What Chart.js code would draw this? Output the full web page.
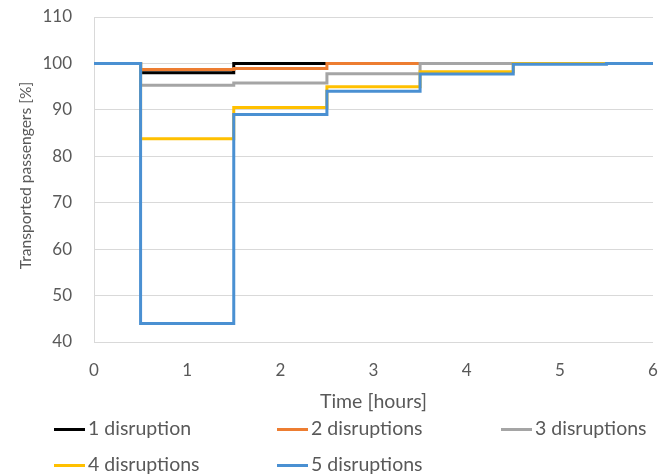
<!DOCTYPE html>
<html>
<head>
<meta charset="utf-8">
<script src="https://cdn.jsdelivr.net/npm/chart.js@4/dist/chart.umd.min.js"></script>
<style>
  body { margin: 0; background: #fff; }
  #wrap { position: relative; width: 670px; height: 475px; font-family: Lato, sans-serif; color: #595959; }
  #legend { position: absolute; left: 0; top: 0; width: 670px; height: 475px; pointer-events: none; }
  .item { position: absolute; font-size: 19.5px; line-height: 24px; white-space: nowrap; }
  .item span.swatch { display: inline-block; width: 31px; height: 3px; vertical-align: middle; margin-right: 3px; position: relative; top: -1px; }
</style>
</head>
<body>
<div id="wrap">
  <canvas id="chart" width="670" height="475"></canvas>
  <div id="legend"></div>
</div>
<script>
// step start times (hours) and level from that time on
const stepTimes = [0, 0.5, 1.5, 2.5, 3.5, 4.5, 5.5, 6];
const seriesLabels = ['1 disruption', '2 disruptions', '3 disruptions', '4 disruptions', '5 disruptions'];
const seriesColors = ['#000000', '#ED7D31', '#A5A5A5', '#FFC000', '#4A90D2'];
const oneDisruption    = [100, 98.0, 100,  100,  100,  100,  100, 100];
const twoDisruptions   = [100, 98.7, 98.9, 100,  100,  100,  100, 100];
const threeDisruptions = [100, 95.3, 95.8, 97.8, 100,  100,  100, 100];
const fourDisruptions  = [100, 83.8, 90.5, 95.0, 98.2, 100,  100, 100];
const fiveDisruptions  = [100, 44.0, 89.0, 94.0, 97.7, 99.8, 100, 100];
const yTicks = [40, 50, 60, 70, 80, 90, 100, 110];
const xTicks = [0, 1, 2, 3, 4, 5, 6];

const allSeries = [oneDisruption, twoDisruptions, threeDisruptions, fourDisruptions, fiveDisruptions];

const datasets = allSeries.map((vals, i) => ({
    label: seriesLabels[i],
    data: vals.map((v, j) => ({ x: stepTimes[j], y: v })),
    borderColor: seriesColors[i],
    backgroundColor: seriesColors[i],
    borderWidth: 3,
    pointRadius: 0,
    stepped: true,
    fill: false,
    order: allSeries.length - i   // later series drawn on top
}));

const tickFont = { family: 'Lato', size: 17 };

// the plot box is fixed by layout padding, so drop the label overflow padding
function noScalePadding(scale) {
    scale.paddingTop = 0;
    scale.paddingBottom = 0;
    scale.paddingLeft = 0;
    scale.paddingRight = 0;
}

const ctx = document.getElementById('chart').getContext('2d');
const chart = new Chart(ctx, {
    type: 'line',
    data: { datasets: datasets },
    options: {
        responsive: false,
        animation: false,
        layout: { padding: { top: 17, right: 17, left: 0, bottom: 0 } },
        plugins: {
            legend: { display: false },
            tooltip: { enabled: false }
        },
        scales: {
            x: {
                type: 'linear',
                min: 0,
                max: 6,
                afterBuildTicks: (scale) => { scale.ticks = xTicks.map(v => ({ value: v })); },
                afterFit: (scale) => { scale.height = 133; noScalePadding(scale); },
                grid: { display: false, drawTicks: false },
                border: { display: false },
                ticks: { color: '#595959', font: tickFont, padding: 18, maxRotation: 0 },
                title: { display: true, text: 'Time [hours]', color: '#595959', font: { family: 'Lato', size: 19.5 }, padding: { top: 0, bottom: 62 } }
            },
            y: {
                min: 40,
                max: 110,
                afterBuildTicks: (scale) => { scale.ticks = yTicks.map(v => ({ value: v })); },
                afterFit: (scale) => { scale.width = 94; noScalePadding(scale); },
                grid: { color: '#D9D9D9', lineWidth: 1, drawTicks: false },
                border: { display: true, color: '#D9D9D9' },
                ticks: { color: '#595959', font: tickFont, padding: 22 },
                title: { display: true, text: '  Transported passengers [%]', color: '#595959', font: { family: 'Lato', size: 15.6 }, padding: { top: 17, bottom: 0 } }
            }
        }
    }
});

// legend laid out in three columns like the original
const legendPos = [[54, 428], [277, 428], [501, 428], [54, 464], [277, 464]];
const legend = document.getElementById('legend');
seriesLabels.forEach((label, i) => {
    const item = document.createElement('div');
    item.className = 'item';
    item.style.left = legendPos[i][0] + 'px';
    item.style.top = (legendPos[i][1] - 12) + 'px';
    const sw = document.createElement('span');
    sw.className = 'swatch';
    sw.style.background = seriesColors[i];
    item.append(sw);
    item.append(label);
    legend.append(item);
});
</script>
</body>
</html>
